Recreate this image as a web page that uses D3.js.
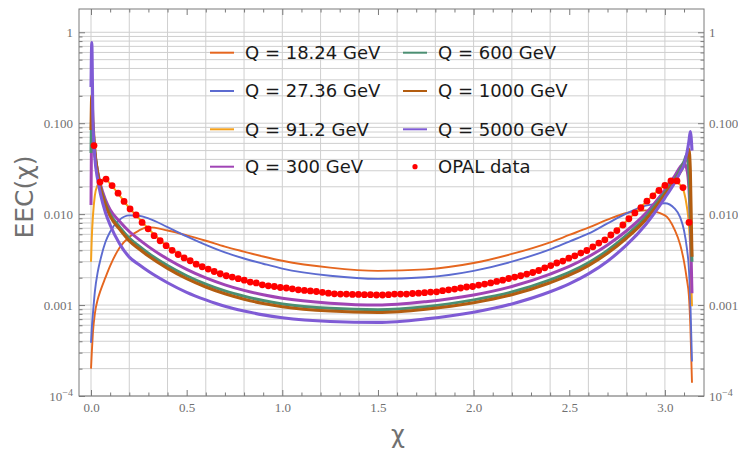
<!DOCTYPE html>
<html><head><meta charset="utf-8">
<script src="https://cdn.jsdelivr.net/npm/d3@7"></script>
<style>body{margin:0;background:#fff}</style>
</head><body>
<svg id="c" width="738" height="449"></svg>
<script>
// ---- data ----
const chi = [0, 0.004, 0.01, 0.02, 0.035, 0.05, 0.075, 0.1, 0.15, 0.2, 0.25, 0.3, 0.4, 0.5, 0.6, 0.7, 0.8, 0.9, 1.0, 1.25, 1.5, 1.75, 2.0, 2.2, 2.4, 2.5, 2.6, 2.7, 2.8, 2.9, 3.0, 3.05, 3.08, 3.1, 3.115, 3.125, 3.133, 3.1416];
const eecQ18   = [2.0e-4, 3.0e-4, 5.0e-4, 8.0e-4, 1.15e-3, 1.45e-3, 2.0e-3, 2.7e-3, 4.3e-3, 5.6e-3, 6.6e-3, 7.2e-3, 6.6e-3, 5.85e-3, 5.1e-3, 4.4e-3, 3.87e-3, 3.42e-3, 3.07e-3, 2.58e-3, 2.38e-3, 2.47e-3, 2.9e-3, 3.65e-3, 4.9e-3, 5.9e-3, 7.1e-3, 8.7e-3, 1.03e-2, 1.1e-2, 9.7e-3, 6.8e-3, 4.6e-3, 3.0e-3, 1.9e-3, 1.3e-3, 6.0e-4, 1.4e-4];
const eecQ27   = [3.85e-4, 5.5e-4, 8.0e-4, 1.4e-3, 2.3e-3, 3.2e-3, 4.9e-3, 6.4e-3, 8.7e-3, 9.7e-3, 9.6e-3, 9.0e-3, 7.2e-3, 5.7e-3, 4.6e-3, 3.8e-3, 3.25e-3, 2.85e-3, 2.52e-3, 2.1e-3, 1.94e-3, 2.02e-3, 2.38e-3, 3.0e-3, 4.1e-3, 5.0e-3, 6.1e-3, 7.9e-3, 1.02e-2, 1.24e-2, 1.32e-2, 1.16e-2, 9.2e-3, 6.6e-3, 4.2e-3, 2.6e-3, 1.1e-3, 2.4e-4];
const eecQ91   = [3.0e-3, 5.5e-3, 9.5e-3, 1.6e-2, 2.1e-2, 2.35e-2, 2.42e-2, 2.15e-2, 1.6e-2, 1.17e-2, 9.0e-3, 6.9e-3, 4.4e-3, 3.22e-3, 2.55e-3, 2.12e-3, 1.88e-3, 1.66e-3, 1.55e-3, 1.34e-3, 1.3e-3, 1.38e-3, 1.62e-3, 2.0e-3, 2.72e-3, 3.3e-3, 4.1e-3, 5.5e-3, 8.4e-3, 1.35e-2, 2.08e-2, 2.32e-2, 2.1e-2, 1.75e-2, 1.2e-2, 8.0e-3, 4.0e-3, 9.7e-4];
const eecQ300  = [1.26e-2, 9.0e-2, 7.0e-2, 4.6e-2, 2.9e-2, 2.1e-2, 1.45e-2, 1.12e-2, 8.3e-3, 6.44e-3, 5.27e-3, 4.39e-3, 3.21e-3, 2.47e-3, 1.99e-3, 1.67e-3, 1.45e-3, 1.30e-3, 1.19e-3, 1.05e-3, 1.0e-3, 1.09e-3, 1.29e-3, 1.60e-3, 2.19e-3, 2.66e-3, 3.40e-3, 4.59e-3, 6.57e-3, 1.02e-2, 1.85e-2, 2.6e-2, 3.3e-2, 3.63e-2, 3.1e-2, 2.0e-2, 8.0e-3, 1.35e-3];
const eecQ600  = [4.7e-2, 1.3e-1, 9.0e-2, 4.8e-2, 2.8e-2, 1.95e-2, 1.32e-2, 1.0e-2, 7.2e-3, 5.45e-3, 4.46e-3, 3.71e-3, 2.72e-3, 2.10e-3, 1.70e-3, 1.43e-3, 1.25e-3, 1.12e-3, 1.03e-3, 9.2e-4, 8.9e-4, 9.6e-4, 1.14e-3, 1.39e-3, 1.89e-3, 2.29e-3, 2.92e-3, 3.99e-3, 5.86e-3, 9.3e-3, 1.74e-2, 2.4e-2, 3.1e-2, 3.8e-2, 4.5e-2, 3.0e-2, 1.0e-2, 3.0e-3];
const eecQ1000 = [8.4e-2, 2.0e-1, 1.05e-1, 5.0e-2, 2.8e-2, 1.9e-2, 1.27e-2, 9.5e-3, 6.8e-3, 5.09e-3, 4.16e-3, 3.46e-3, 2.53e-3, 1.95e-3, 1.58e-3, 1.33e-3, 1.16e-3, 1.04e-3, 9.6e-4, 8.6e-4, 8.3e-4, 9.0e-4, 1.06e-3, 1.30e-3, 1.76e-3, 2.13e-3, 2.72e-3, 3.72e-3, 5.46e-3, 8.7e-3, 1.65e-2, 2.3e-2, 2.9e-2, 3.5e-2, 4.4e-2, 5.2e-2, 3.0e-2, 3.4e-3];
const eecQ5000 = [2.5e-1, 7.7e-1, 1.1e-1, 4.2e-2, 2.4e-2, 1.65e-2, 1.05e-2, 7.6e-3, 4.7e-3, 3.37e-3, 2.79e-3, 2.35e-3, 1.76e-3, 1.38e-3, 1.14e-3, 9.7e-4, 8.6e-4, 7.8e-4, 7.25e-4, 6.6e-4, 6.45e-4, 7.05e-4, 8.35e-4, 1.03e-3, 1.40e-3, 1.71e-3, 2.20e-3, 3.04e-3, 4.58e-3, 7.7e-3, 1.51e-2, 2.2e-2, 2.9e-2, 3.5e-2, 4.7e-2, 6.2e-2, 8.1e-2, 5.0e-2];

const opalChi = [0.0157,0.0471,0.0785,0.1100,0.1414,0.1728,0.2042,0.2356,0.2670,0.2985,0.3299,0.3613,0.3927,0.4241,0.4555,0.4869,0.5184,0.5498,0.5812,0.6126,0.6440,0.6754,0.7069,0.7383,0.7697,0.8011,0.8325,0.8639,0.8954,0.9268,0.9582,0.9896,1.0210,1.0524,1.0838,1.1153,1.1467,1.1781,1.2095,1.2409,1.2723,1.3038,1.3352,1.3666,1.3980,1.4294,1.4608,1.4923,1.5237,1.5551,1.5865,1.6179,1.6493,1.6808,1.7122,1.7436,1.7750,1.8064,1.8378,1.8692,1.9007,1.9321,1.9635,1.9949,2.0263,2.0577,2.0892,2.1206,2.1520,2.1834,2.2148,2.2462,2.2777,2.3091,2.3405,2.3719,2.4033,2.4347,2.4662,2.4976,2.5290,2.5604,2.5918,2.6232,2.6546,2.6861,2.7175,2.7489,2.7803,2.8117,2.8431,2.8746,2.9060,2.9374,2.9688,3.0002,3.0316,3.0631,3.0945,3.1259];
const opalEEC = [0.0567,0.0225,0.0243,0.0206,0.0170,0.0138,0.0114,0.0098,0.0081,0.0069,0.0058,0.0051,0.0045,0.0040,0.0036,0.0033,0.00307,0.00282,0.00264,0.00249,0.00234,0.00221,0.0021,0.00203,0.00195,0.00188,0.00179,0.00175,0.00167,0.00163,0.0016,0.00156,0.00154,0.00151,0.00147,0.00145,0.00143,0.00141,0.00138,0.00135,0.00133,0.00132,0.00132,0.00131,0.00131,0.0013,0.0013,0.00129,0.00129,0.0013,0.00132,0.00132,0.00132,0.00134,0.00135,0.00137,0.00139,0.0014,0.00144,0.00147,0.0015,0.00154,0.00158,0.0016,0.00166,0.0017,0.00175,0.00182,0.00188,0.00196,0.00203,0.0021,0.00219,0.00228,0.0024,0.00257,0.00272,0.0029,0.00305,0.00328,0.00348,0.00373,0.00398,0.00437,0.0048,0.00522,0.0059,0.0066,0.0076,0.0089,0.0103,0.0118,0.0139,0.0159,0.0182,0.0207,0.0232,0.0232,0.0196,0.0081];

const seriesLabels = ["Q = 18.24 GeV","Q = 27.36 GeV","Q = 91.2 GeV","Q = 300 GeV","Q = 600 GeV","Q = 1000 GeV","Q = 5000 GeV"];
const seriesValues = [eecQ18, eecQ27, eecQ91, eecQ300, eecQ600, eecQ1000, eecQ5000];
const seriesColors = ["#e5661f","#5c6bd0","#f4a11c","#a044b5","#4b8f72","#b35d10","#7f5bd5"];
const seriesWidths = [1.9,1.9,2.0,3.0,3.0,3.1,3.1];
const opalLabel = "OPAL data";

const xMajor = [0,0.5,1.0,1.5,2.0,2.5,3.0];
const xMinor = [0.1,0.2,0.3,0.4,0.6,0.7,0.8,0.9,1.1,1.2,1.3,1.4,1.6,1.7,1.8,1.9,2.1,2.2,2.3,2.4,2.6,2.7,2.8,2.9,3.1];
const xGrid = [0,0.2,0.4,0.6,0.8,1.0,1.2,1.4,1.6,1.8,2.0,2.2,2.4,2.6,2.8,3.0];
const yMajor = [1e-4,1e-3,1e-2,1e-1,1];
const yMajorLabels = ["10^-4","0.001","0.010","0.100","1"];
const yMinorMult = [2,3,4,5,6,7,8,9];

// ---- layout ----
const L=79, R=704, T=9, B=396;
const svg = d3.select("#c");
const x = d3.scaleLinear().domain([-0.0628, 3.2044]).range([L,R]);
const y = d3.scaleLog().domain([1e-4, Math.pow(10,0.256)]).range([B,T]);

const yMinor = [];
yMajor.forEach(d=>yMinorMult.forEach(m=>{const v=d*m; if(v<=y.domain()[1]) yMinor.push(v);}));
const yGrid = yMajor.concat(yMinor);

// grid
const g = svg.append("g");
g.selectAll(".gx").data(xGrid).join("line")
  .attr("x1",d=>x(d)).attr("x2",d=>x(d)).attr("y1",T).attr("y2",B)
  .attr("stroke","#cfcfcf").attr("stroke-width",1);
g.selectAll(".gy").data(yGrid).join("line")
  .attr("y1",d=>y(d)).attr("y2",d=>y(d)).attr("x1",L).attr("x2",R)
  .attr("stroke","#cfcfcf").attr("stroke-width",1);

// clip
svg.append("clipPath").attr("id","clip").append("rect").attr("x",L).attr("y",T).attr("width",R-L).attr("height",B-T);

// curves
const line = d3.line().x((d,i)=>x(chi[i])).y(d=>y(d)).curve(d3.curveMonotoneX);
const pg = svg.append("g").attr("clip-path","url(#clip)");
seriesValues.forEach((vals,k)=>{
  pg.append("path").attr("d",line(vals)).attr("fill","none")
    .attr("stroke",seriesColors[k]).attr("stroke-width",seriesWidths[k])
    .attr("stroke-linejoin","round");
});
pg.selectAll("circle.opal").data(opalEEC).join("circle")
  .attr("cx",(d,i)=>x(opalChi[i])).attr("cy",d=>y(d)).attr("r",3.4).attr("fill","#ff0000");

// frame
svg.append("rect").attr("x",L).attr("y",T).attr("width",R-L).attr("height",B-T)
  .attr("fill","none").attr("stroke","#7a7a7a").attr("stroke-width",1);

const tickColor = "#7a7a7a", labColor="#707070";
function styleAxis(sel){
  sel.select(".domain").remove();
  sel.selectAll(".tick line").attr("stroke",tickColor);
  sel.selectAll(".tick text").style("fill",labColor).style("font-family","'Liberation Serif','DejaVu Serif',serif").style("font-size","13px");
}
// x axes
svg.append("g").attr("transform",`translate(0,${B})`)
  .call(d3.axisBottom(x).tickValues(xMajor).tickSize(-6).tickPadding(7).tickFormat(d3.format(".1f"))).call(styleAxis);
svg.append("g").attr("transform",`translate(0,${B})`)
  .call(d3.axisBottom(x).tickValues(xMinor).tickSize(-3.5).tickFormat("")).call(styleAxis);
svg.append("g").attr("transform",`translate(0,${T})`)
  .call(d3.axisTop(x).tickValues(xMajor).tickSize(-6).tickFormat("")).call(styleAxis);
svg.append("g").attr("transform",`translate(0,${T})`)
  .call(d3.axisTop(x).tickValues(xMinor).tickSize(-3.5).tickFormat("")).call(styleAxis);

// y axes
function yFmt(d){ return yMajorLabels[yMajor.indexOf(d)]; }
function fixSup(sel){
  sel.selectAll(".tick text").each(function(d){
    const t=d3.select(this); const s=yFmt(d);
    if(s && s.indexOf("^")>0){
      const parts=s.split("^"); t.text(parts[0]);
      t.append("tspan").attr("dy","-0.45em").style("font-size","10px").style("fill",labColor).text(parts[1].replace("-","\u2212"));
    }
  });
}
svg.append("g").attr("transform",`translate(${L},0)`)
  .call(d3.axisLeft(y).tickValues(yMajor).tickSize(-6).tickPadding(6).tickFormat(yFmt)).call(styleAxis).call(fixSup);
svg.append("g").attr("transform",`translate(${L},0)`)
  .call(d3.axisLeft(y).tickValues(yMinor).tickSize(-3.5).tickFormat("")).call(styleAxis);
svg.append("g").attr("transform",`translate(${R},0)`)
  .call(d3.axisRight(y).tickValues(yMajor).tickSize(-6).tickPadding(5).tickFormat(yFmt)).call(styleAxis).call(fixSup);
svg.append("g").attr("transform",`translate(${R},0)`)
  .call(d3.axisRight(y).tickValues(yMinor).tickSize(-3.5).tickFormat("")).call(styleAxis);

// axis titles
const titleFont = "'DejaVu Sans',sans-serif";
svg.append("text").attr("x",398).attr("y",443).attr("text-anchor","middle")
  .style("fill","#707070").style("font-family",titleFont).style("font-size","24px").text("\u03c7");
svg.append("text").attr("transform","translate(33,197) rotate(-90)").attr("text-anchor","middle")
  .style("fill","#707070").style("font-family",titleFont).style("font-size","25px").text("EEC(\u03c7)");

// legend
const legFont = "'DejaVu Sans',sans-serif";
const rowsY = [52.7, 91, 129.3, 166.7];
const legItems = seriesLabels.map((s,k)=>({label:s,color:seriesColors[k],type:"line"}));
legItems.push({label:opalLabel,color:"#ff0000",type:"dot"});
const lg = svg.append("g");
legItems.forEach((it,k)=>{
  const col = k<4?0:1, row = k<4?k:k-4;
  const sx = col===0?210:403, tx = col===0?245:438;
  const yy = rowsY[row];
  if(it.type==="line"){
    lg.append("line").attr("x1",sx).attr("x2",sx+24).attr("y1",yy).attr("y2",yy)
      .attr("stroke",it.color).attr("stroke-width",2);
  } else {
    lg.append("circle").attr("cx",sx+12).attr("cy",yy).attr("r",2.6).attr("fill",it.color);
  }
  lg.append("text").attr("x",tx).attr("y",yy+6.4).style("fill","#1a1a1a")
    .style("font-family",legFont).style("font-size","18px").text(it.label);
});
</script>
</body></html>
